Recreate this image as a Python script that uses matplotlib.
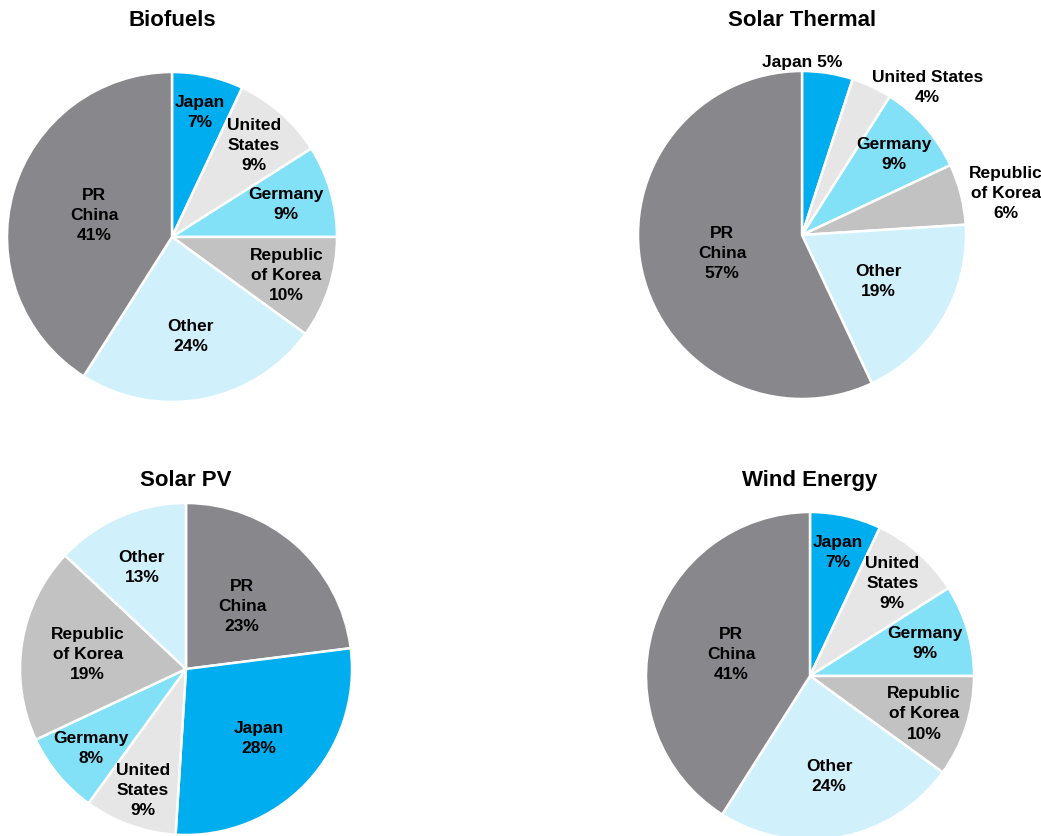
import numpy as np
import matplotlib.pyplot as plt

plt.rcParams['font.family'] = ['Liberation Sans', 'DejaVu Sans']
plt.rcParams['font.weight'] = 'bold'

W, H = 1041, 837

# colours per country
colors = {
    'China': '#88888c',
    'Japan': '#00adef',
    'US': '#e6e6e6',
    'Germany': '#82e0f7',
    'Korea': '#c2c2c2',
    'Other': '#d0f0fb',
}

# Biofuels
bio_keys = ['Japan', 'US', 'Germany', 'Korea', 'Other', 'China']
bio_vals = [7, 9, 9, 10, 24, 41]
bio_names = ['Japan', 'United\nStates', 'Germany', 'Republic\nof Korea', 'Other', 'PR\nChina']

# Solar Thermal
st_keys = ['Japan', 'US', 'Germany', 'Korea', 'Other', 'China']
st_vals = [5, 4, 9, 6, 19, 57]
st_names = ['Japan', 'United States', 'Germany', 'Republic\nof Korea', 'Other', 'PR\nChina']

# Solar PV
pv_keys = ['China', 'Japan', 'US', 'Germany', 'Korea', 'Other']
pv_vals = [23, 28, 9, 8, 19, 13]
pv_names = ['PR\nChina', 'Japan', 'United\nStates', 'Germany', 'Republic\nof Korea', 'Other']

# Wind Energy
wind_keys = ['Japan', 'US', 'Germany', 'Korea', 'Other', 'China']
wind_vals = [7, 9, 9, 10, 24, 41]
wind_names = ['Japan', 'United\nStates', 'Germany', 'Republic\nof Korea', 'Other', 'PR\nChina']

fig = plt.figure(figsize=(W / 100, H / 100), dpi=100)


def draw(title, keys, vals, names, cx, cy, r, ty, dists, seps=None, has=None, frac=None):
    ax = fig.add_axes([(cx - r) / W, (H - cy - r) / H, 2 * r / W, 2 * r / H])
    wedges, _ = ax.pie(vals, colors=[colors[k] for k in keys], startangle=90,
                       counterclock=False, radius=1,
                       wedgeprops=dict(edgecolor='white', linewidth=1.8))
    ax.set_xlim(-1, 1)
    ax.set_ylim(-1, 1)
    ax.set_aspect('equal')
    ax.axis('off')
    for i, w in enumerate(wedges):
        f = 0.5 if frac is None else frac[i]
        ang = np.deg2rad(w.theta1 + (w.theta2 - w.theta1) * f)
        sep = '\n' if seps is None else seps[i]
        ha = 'center' if has is None else has[i]
        ax.text(dists[i] * np.cos(ang), dists[i] * np.sin(ang),
                f'{names[i]}{sep}{vals[i]}%', ha=ha, va='center',
                multialignment='center', fontsize=12.5, fontweight='bold',
                linespacing=1.42, clip_on=False)
    fig.text(cx / W, 1 - ty / H, title, ha='center', va='center',
             fontsize=16, fontweight='bold')


draw('Biofuels', bio_keys, bio_vals, bio_names, 172, 238, 165, 21,
     [0.78, 0.75, 0.72, 0.73, 0.61, 0.49])
draw('Solar Thermal', st_keys, st_vals, st_names, 802, 236, 164, 21,
     [1.06, 1.0, 0.75, 1.05, 0.54, 0.5],
     seps=[' ', '\n', '\n', '\n', '\n', '\n'],
     has=['center', 'left', 'center', 'left', 'center', 'center'],
     frac=[1.0, 0.5, 0.5, 0.5, 0.5, 0.5])
draw('Solar PV', pv_keys, pv_vals, pv_names, 186, 670, 166, 481,
     [0.51, 0.6, 0.77, 0.74, 0.6, 0.67])
draw('Wind Energy', wind_keys, wind_vals, wind_names, 810, 677, 164, 481,
     [0.78, 0.76, 0.73, 0.73, 0.62, 0.5])

fig.savefig('out.png', dpi=100, facecolor='white')
